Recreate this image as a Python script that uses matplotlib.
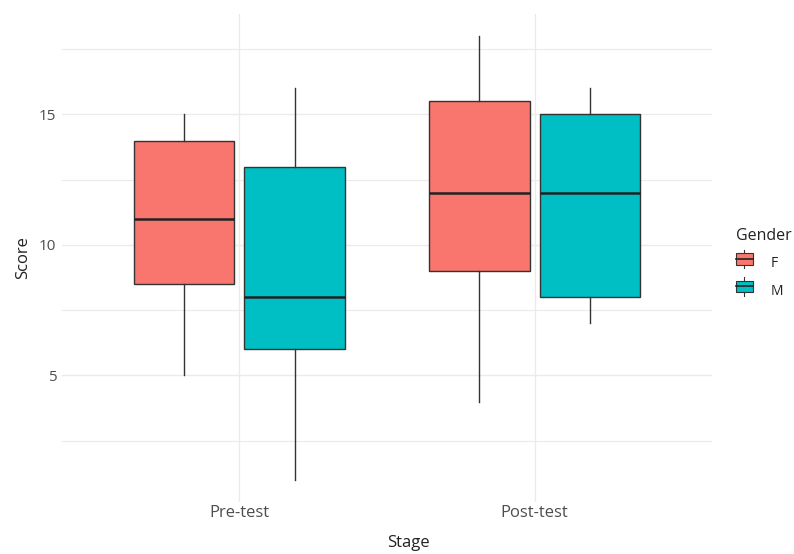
import numpy as np
import matplotlib
matplotlib.use("Agg")
import matplotlib.pyplot as plt
import matplotlib.patches as mpatches
from matplotlib.legend_handler import HandlerBase
from matplotlib.lines import Line2D

# Box summaries per stage and gender (whisker low, Q1, median, Q3, whisker high)
stages = ["Pre-test", "Post-test"]
genders = ["F", "M"]
whisker_low = {"F": [5, 4], "M": [1, 7]}
q1 = {"F": [8.5, 9], "M": [6, 8]}
median = {"F": [11, 12], "M": [8, 12]}
q3 = {"F": [14, 15.5], "M": [13, 15]}
whisker_high = {"F": [15, 18], "M": [16, 16]}

COLORS = {"F": "#F8766D", "M": "#00BFC4"}
EDGE = "#333333"
GRID = "#ebebeb"
TEXT = "#4d4d4d"

plt.rcParams["font.family"] = ["Open Sans", "DejaVu Sans"]

fig = plt.figure(figsize=(7.94, 5.54), dpi=100)
ax = fig.add_axes([62 / 794, 52 / 554, 650 / 794, 488 / 554])

offsets = {"F": -0.1875, "M": 0.1875}
box_w = 0.34
for g in genders:
    stats = []
    for i, s in enumerate(stages):
        stats.append(dict(whislo=whisker_low[g][i], q1=q1[g][i], med=median[g][i],
                          q3=q3[g][i], whishi=whisker_high[g][i], fliers=[]))
    pos = [i + 1 + offsets[g] for i in range(len(stages))]
    ax.bxp(stats, positions=pos, widths=box_w, patch_artist=True, showcaps=False,
           boxprops=dict(facecolor=COLORS[g], edgecolor=EDGE, linewidth=1.0),
           medianprops=dict(color="#222222", linewidth=1.8),
           whiskerprops=dict(color=EDGE, linewidth=1.0),
           manage_ticks=False, zorder=3)

# theme_minimal style grid
ax.set_xlim(0.4, 2.6)
ax.set_ylim(0.15, 18.85)
ax.set_xticks([1, 2])
ax.set_xticklabels(stages)
ax.set_yticks([5, 10, 15])
ax.set_yticks([2.5, 7.5, 12.5, 17.5], minor=True)
ax.grid(True, which="major", color=GRID, linewidth=1.0, zorder=0)
ax.grid(True, which="minor", axis="y", color=GRID, linewidth=0.8, zorder=0)
ax.set_axisbelow(True)
for sp in ax.spines.values():
    sp.set_visible(False)
ax.tick_params(which="both", length=0, labelcolor=TEXT, labelsize=11, pad=4)
ax.tick_params(axis="x", labelsize=12, pad=2)

ax.set_ylabel("Score", fontsize=12, color="#222222", labelpad=6)
ax.set_xlabel("Stage", fontsize=12, color="#222222", va="center")
ax.xaxis.set_label_coords((408 - 62) / 650, (502 - 543) / 488)


class BoxKeyHandler(HandlerBase):
    def create_artists(self, legend, orig_handle, xdescent, ydescent,
                       width, height, fontsize, trans):
        fc = orig_handle.get_facecolor()
        cx = width / 2 - xdescent
        top = height * 1.05
        bot = -height * 0.05
        box = mpatches.Rectangle((0, height * 0.15), width, height * 0.7,
                                 facecolor=fc, edgecolor=EDGE, linewidth=0.8,
                                 transform=trans)
        med = Line2D([0, width], [height / 2, height / 2], color="#222222",
                     linewidth=1.2, transform=trans)
        w1 = Line2D([cx, cx], [height * 0.85, top], color=EDGE, linewidth=0.8,
                    transform=trans)
        w2 = Line2D([cx, cx], [bot, height * 0.15], color=EDGE, linewidth=0.8,
                    transform=trans)
        return [w1, w2, box, med]


handles = [mpatches.Patch(facecolor=COLORS[g], label=g) for g in genders]
leg = fig.legend(handles=handles, labels=genders, title="Gender",
                 handler_map={mpatches.Patch: BoxKeyHandler()},
                 loc="upper left", bbox_to_anchor=(736 / 794, 1 - 228 / 554),
                 frameon=False, fontsize=10, title_fontsize=11.5,
                 handlelength=1.2, handleheight=1.5, labelspacing=0.75,
                 handletextpad=1.3, borderaxespad=0, borderpad=0)
leg.get_title().set_color("#222222")
leg._legend_box.align = "left"
for t in leg.get_texts():
    t.set_color("#222222")

fig.savefig("out.png", dpi=100)
